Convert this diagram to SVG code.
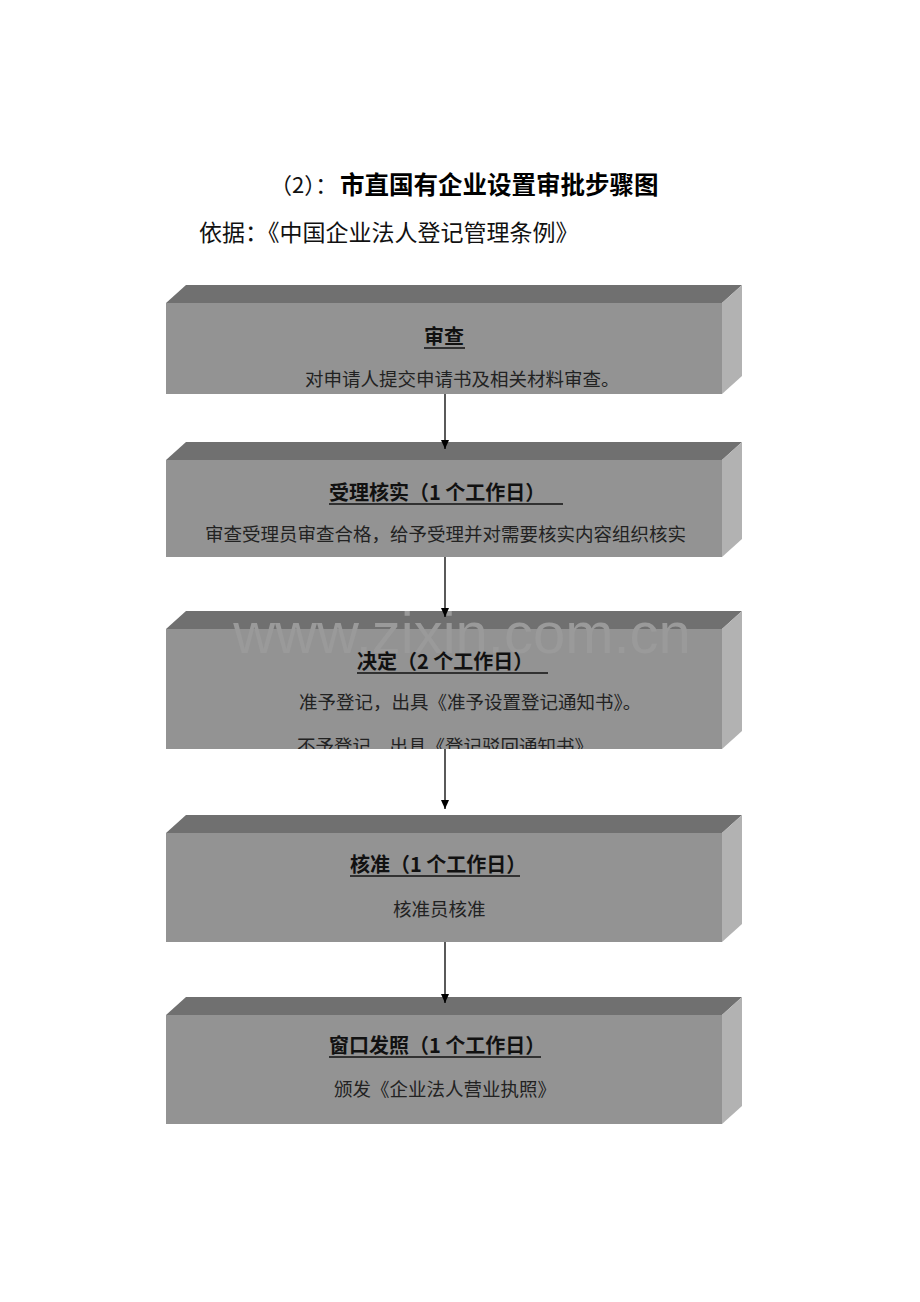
<svg xmlns="http://www.w3.org/2000/svg" width="920" height="1302" viewBox="0 0 920 1302">
<style>
.front{fill:#939393;}
.top{fill:#707070;}
.side{fill:#b2b2b2;}
.ttl{font-family:"Noto Sans CJK SC","Liberation Sans",sans-serif;font-weight:bold;font-size:20px;fill:#111;}
.sub{font-family:"Noto Sans CJK SC","Liberation Serif",serif;font-size:18.5px;fill:#222;}
.ul{stroke:#111;stroke-width:1.5;}
.conn line{stroke:#000;stroke-width:1.3;}
</style>
<defs>
<marker id="ah" markerWidth="10" markerHeight="10" refX="9" refY="5" orient="auto" markerUnits="userSpaceOnUse"><path d="M0,1 L9,5 L0,9 Z" fill="#000"/></marker>
<clipPath id="c3"><rect x="166" y="629" width="556" height="120"/></clipPath>
</defs>
<rect width="920" height="1302" fill="#fff"/>
<g id="heading">
<text x="270" y="193" font-size="22" font-family="Noto Sans CJK SC,sans-serif" fill="#111">（2）：</text>
<text x="340" y="194" font-size="24.5" font-weight="bold" font-family="Noto Sans CJK SC,sans-serif" fill="#000">市直国有企业设置审批步骤图</text>
<text x="199" y="241" font-family="Noto Sans CJK SC,serif" font-size="23" fill="#111">依据：《中国企业法人登记管理条例》</text>
</g>

<g id="node1">
<polygon class="top" points="166,303 186,285 742,285 722,303"/>
<polygon class="side" points="722,303 742,285 742,376 722,394"/>
<rect class="front" x="166" y="303" width="556" height="91"/>
<text class="ttl" x="424" y="344">审查</text>
<line class="ul" x1="424" y1="348" x2="465" y2="348"/>
<text class="sub" x="305" y="386">对申请人提交申请书及相关材料审查。</text>
</g>

<g id="node2">
<polygon class="top" points="166,460 186,442 742,442 722,460"/>
<polygon class="side" points="722,460 742,442 742,539 722,557"/>
<rect class="front" x="166" y="460" width="556" height="97"/>
<text class="ttl" x="329" y="500">受理核实（1 个工作日）</text>
<line class="ul" x1="329" y1="504" x2="563" y2="504"/>
<text class="sub" x="205" y="541">审查受理员审查合格，给予受理并对需要核实内容组织核实</text>
</g>

<g id="node3">
<polygon class="top" points="166,629 186,611 742,611 722,629"/>
<polygon class="side" points="722,629 742,611 742,731 722,749"/>
<rect class="front" x="166" y="629" width="556" height="120"/>
<text x="462" y="653" font-family="Liberation Sans,sans-serif" font-size="58" fill="#9a9a9a" text-anchor="middle">www.zixin.com.cn</text>
<text class="ttl" x="357" y="669">决定（2 个工作日）</text>
<line class="ul" x1="357" y1="673" x2="548" y2="673"/>
<text class="sub" x="299" y="709">准予登记，出具《准予设置登记通知书》。</text>
<text class="sub" x="297" y="753" clip-path="url(#c3)">不予登记，出具《登记驳回通知书》</text>
</g>

<g id="node4">
<polygon class="top" points="166,833 186,815 742,815 722,833"/>
<polygon class="side" points="722,833 742,815 742,924 722,942"/>
<rect class="front" x="166" y="833" width="556" height="109"/>
<text class="ttl" x="350" y="872">核准（1 个工作日）</text>
<line class="ul" x1="350" y1="876" x2="520" y2="876"/>
<text class="sub" x="393" y="916">核准员核准</text>
</g>

<g id="node5">
<polygon class="top" points="166,1015 186,997 742,997 722,1015"/>
<polygon class="side" points="722,1015 742,997 742,1106 722,1124"/>
<rect class="front" x="166" y="1015" width="556" height="109"/>
<text class="ttl" x="329" y="1053">窗口发照（1 个工作日）</text>
<line class="ul" x1="329" y1="1057" x2="541" y2="1057"/>
<text class="sub" x="334" y="1096">颁发《企业法人营业执照》</text>
</g>

<g id="connectors" class="conn">
<line x1="445" y1="394" x2="445" y2="449" marker-end="url(#ah)"/>
<line x1="445" y1="557" x2="445" y2="617" marker-end="url(#ah)"/>
<line x1="445" y1="749" x2="445" y2="809" marker-end="url(#ah)"/>
<line x1="445" y1="942" x2="445" y2="1003" marker-end="url(#ah)"/>
</g>
</svg>
